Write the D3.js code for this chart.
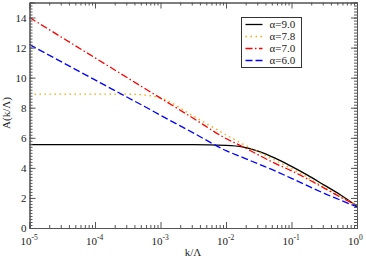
<!DOCTYPE html>
<html>
<head>
<meta charset="utf-8">
<script src="https://cdn.jsdelivr.net/npm/d3@7"></script>
<style>
  body { margin: 0; background: #fff; }
  svg { display: block; }
  text { font-family: "Liberation Serif", "DejaVu Serif", serif; }
</style>
</head>
<body>
<div id="chart"></div>
<script>
// k/Lambda sample points (log grid)
var kValues = [1e-5, 1e-4, 3.16e-4, 5.62e-4, 1e-3, 3.16e-3, 1e-2, 1.78e-2, 3.16e-2, 5.62e-2, 1e-1, 1.78e-1, 3.16e-1, 5.62e-1, 1];
var alpha90 = [5.55, 5.55, 5.55, 5.55, 5.55, 5.55, 5.5, 5.4, 5.1, 4.65, 4.1, 3.5, 2.85, 2.2, 1.45];
var alpha78 = [8.9, 8.9, 8.9, 8.85, 8.65, 7.45, 6.2, 5.6, 5.05, 4.5, 3.95, 3.35, 2.7, 2.1, 1.5];
var alpha70 = [14.0, 11.32, 9.98, 9.31, 8.64, 7.3, 5.95, 5.42, 4.85, 4.3, 3.8, 3.25, 2.65, 2.05, 1.5];
var alpha60 = [12.2, 9.85, 8.68, 8.1, 7.5, 6.33, 5.15, 4.7, 4.25, 3.8, 3.3, 2.8, 2.3, 1.85, 1.4];
var seriesNames = ["\u03b1=9.0", "\u03b1=7.8", "\u03b1=7.0", "\u03b1=6.0"];
var xTickExp = [-5, -4, -3, -2, -1, 0];
var yTicks = [0, 2, 4, 6, 8, 10, 12, 14];

var svgWidth = 366;
var svgHeight = 259;
var plotL = 29.5, plotR = 357, plotT = 2.5, plotB = 228;

var styles = [
  {color: "#000000", dash: null},
  {color: "#ffa500", dash: "1.5,3.5"},
  {color: "#ff0000", dash: "7,2.5,1.5,2.5"},
  {color: "#0000ff", dash: "7,3"}
];
var allSeries = [alpha90, alpha78, alpha70, alpha60];

var svg = d3.select("#chart")
  .append("svg")
  .attr("width", svgWidth)
  .attr("height", svgHeight);

var x = d3.scaleLog().domain([1e-5, 1]).range([plotL, plotR]);
var y = d3.scaleLinear().domain([0, 15]).range([plotB, plotT]);

// minor ticks
var xMinor = [];
for (var e = -5; e < 0; e++) {
  for (var m = 2; m <= 9; m++) xMinor.push(m * Math.pow(10, e));
}
var yMinor = d3.range(0, 15.01, 0.2);

function tickAxis(axis, scale, ticks, size) {
  return axis(scale).tickValues(ticks).tickSize(size).tickFormat("");
}

// lines
var line = d3.line()
  .x(function(d){ return x(d[0]); })
  .y(function(d){ return y(d[1]); })
  .curve(d3.curveMonotoneX);

svg.append("g")
  .selectAll("path")
  .data(allSeries)
  .enter()
  .append("path")
  .attr("d", function(s){ return line(kValues.map(function(k, i){ return [k, s[i]]; })); })
  .attr("fill", "none")
  .attr("stroke", function(d, i){ return styles[i].color; })
  .attr("stroke-width", 1.3)
  .attr("stroke-dasharray", function(d, i){ return styles[i].dash; });

// frame with inward ticks on all sides
var majX = xTickExp.map(function(e){ return Math.pow(10, e); });
var axes = [
  [d3.axisTop, x, majX, 6, "translate(0," + plotB + ")"],
  [d3.axisTop, x, xMinor, 3, "translate(0," + plotB + ")"],
  [d3.axisBottom, x, majX, 6, "translate(0," + plotT + ")"],
  [d3.axisBottom, x, xMinor, 3, "translate(0," + plotT + ")"],
  [d3.axisRight, y, yTicks, 6, "translate(" + plotL + ",0)"],
  [d3.axisRight, y, yMinor, 3, "translate(" + plotL + ",0)"],
  [d3.axisLeft, y, yTicks, 6, "translate(" + plotR + ",0)"],
  [d3.axisLeft, y, yMinor, 3, "translate(" + plotR + ",0)"]
];
axes.forEach(function(a){
  var g = svg.append("g")
    .attr("transform", a[4])
    .call(tickAxis(a[0], a[1], a[2], a[3]));
  g.selectAll("path").attr("stroke", "#555").attr("stroke-width", 1);
  g.selectAll("line").attr("stroke", "#555");
});

// x tick labels 10^n
var xl = svg.append("g").selectAll("text")
  .data(xTickExp)
  .enter()
  .append("text")
  .attr("x", function(d){ return x(Math.pow(10, d)) - 9; })
  .attr("y", plotB + 17)
  .attr("font-size", 11)
  .attr("fill", "#222");
xl.append("tspan").text("10");
xl.append("tspan").attr("dy", -5).attr("font-size", 7.5).text(function(d){ return d; });

// y tick labels
svg.append("g").selectAll("text")
  .data(yTicks)
  .enter()
  .append("text")
  .attr("x", plotL - 3)
  .attr("y", function(d){ return y(d) + 4; })
  .attr("text-anchor", "end")
  .attr("font-size", 11)
  .attr("fill", "#222")
  .text(function(d){ return d; });

// axis titles
svg.append("text")
  .attr("x", 193)
  .attr("y", 256)
  .attr("text-anchor", "middle")
  .attr("font-size", 11)
  .attr("fill", "#222")
  .text("k/\u039b");

svg.append("text")
  .attr("transform", "translate(10,113) rotate(-90)")
  .attr("text-anchor", "middle")
  .attr("font-size", 11)
  .attr("fill", "#222")
  .text("A(k/\u039b)");

// legend
var legend = svg.append("g").attr("transform", "translate(241.5,17.5)");
legend.append("rect")
  .attr("width", 60)
  .attr("height", 50)
  .attr("fill", "#fff")
  .attr("stroke", "#333")
  .attr("stroke-width", 1);

var item = legend.selectAll(".item")
  .data(seriesNames)
  .enter()
  .append("g")
  .attr("class", "item")
  .attr("transform", function(d, i){ return "translate(0," + (7 + i * 12) + ")"; });

item.append("line")
  .attr("x1", 4).attr("x2", 21)
  .attr("stroke", function(d, i){ return styles[i].color; })
  .attr("stroke-width", 1.3)
  .attr("stroke-dasharray", function(d, i){ return styles[i].dash; });

item.append("text")
  .attr("x", 28)
  .attr("y", 3.5)
  .attr("font-size", 11)
  .attr("fill", "#222")
  .text(function(d){ return d; });
</script>
</body>
</html>
